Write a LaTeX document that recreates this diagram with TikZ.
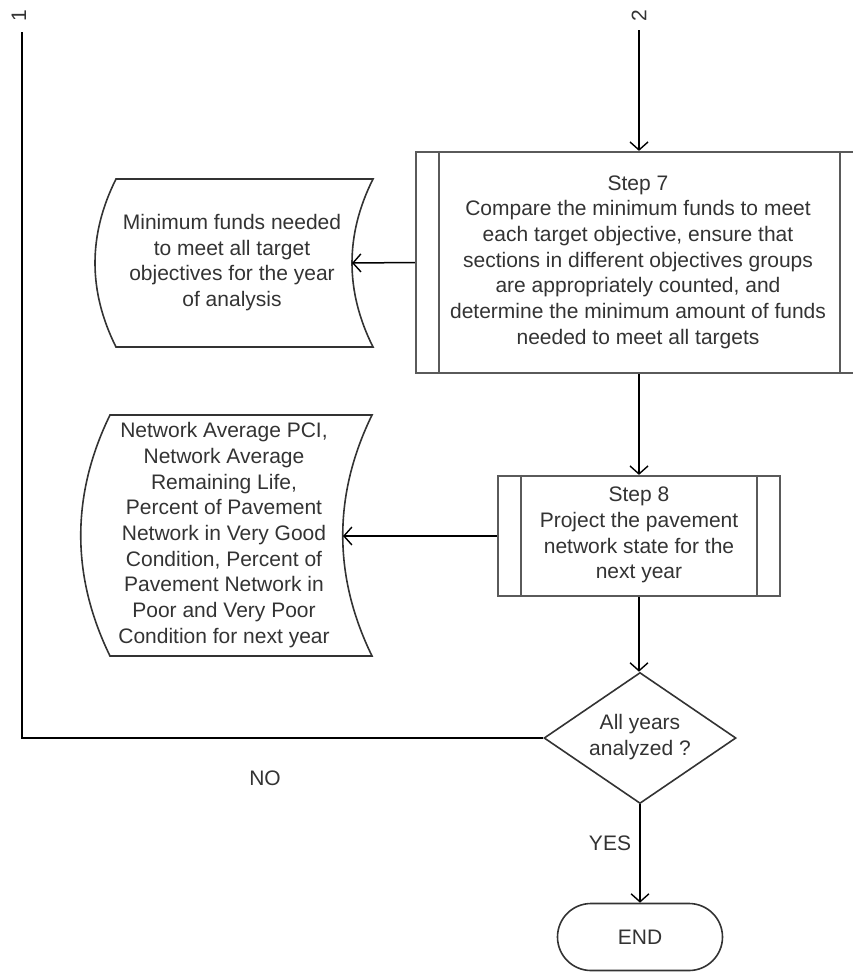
\documentclass[tikz,border=0pt]{standalone}
\usepackage{fontspec}
\setmainfont{Liberation Sans}
\usetikzlibrary{arrows.meta,shapes.geometric}
\definecolor{ink}{HTML}{333333}
\definecolor{edge}{HTML}{5A5A5A}
\begin{document}
\begin{tikzpicture}[x=1pt,y=-1pt,
  txt/.style={font=\fontsize{21}{25.7}\selectfont, text=ink, align=center, inner sep=0pt},
  procbox/.style={draw=edge, line width=2.2pt, rectangle, inner sep=0pt},
  outline/.style={draw=black!80, line width=1.6pt},
  decision/.style={diamond, draw=black!80, line width=1.6pt, inner sep=0pt, aspect=1.47},
  terminal/.style={draw=black!80, line width=1.6pt, rectangle, rounded corners=33.5pt, inner sep=0pt},
  link/.style={draw=black, line width=1.5pt},
  flow/.style={link, -{Straight Barb[length=8pt,width=18pt,line width=1.4pt]}},
]
\useasboundingbox (0,0) rectangle (852,975);

% off-page connector labels
\node[txt, rotate=90] (k1) at (19,16) {1};
\node[txt, rotate=90] (k2) at (639,16) {2};
\coordinate (top1) at (22,32);
\coordinate (top2) at (639,30);

% Step 7 (predefined process)
\node[procbox, minimum width=447pt, minimum height=221pt] (s7) at (639.5,262.5) {};
\draw[edge, line width=2.2pt] ([xshift=24pt]s7.north west) -- ([xshift=24pt]s7.south west);
\draw[edge, line width=2.2pt] ([xshift=-24pt]s7.north east) -- ([xshift=-24pt]s7.south east);
\node[txt] (t7) at (638,262) {Step 7\\Compare the minimum funds to meet\\each target objective, ensure that\\sections in different objectives groups\\are appropriately counted, and\\determine the minimum amount of funds\\needed to meet all targets};

% Step 8 (predefined process)
\node[procbox, minimum width=282pt, minimum height=120pt] (s8) at (639,536) {};
\draw[edge, line width=2.2pt] ([xshift=24pt]s8.north west) -- ([xshift=24pt]s8.south west);
\draw[edge, line width=2.2pt] ([xshift=-24pt]s8.north east) -- ([xshift=-24pt]s8.south east);
\node[txt] (t8) at (639,535) {Step 8\\Project the pavement\\network state for the\\next year};

% stored data: minimum funds
\draw[outline] (116,179) -- (373,179) .. controls (345,235) and (345,291) .. (373,347)
  -- (116,347) .. controls (88,291) and (88,235) .. cycle;
\node[txt] (d1) at (232,262.5) {Minimum funds needed\\to meet all target\\objectives for the year\\of analysis};
\coordinate (d1r) at (352,263);

% stored data: network state
\draw[outline] (110,415) -- (372,415) .. controls (333,495) and (333,576) .. (372,656)
  -- (110,656) .. controls (71,576) and (71,495) .. cycle;
\node[txt] (d2) at (224,535) {Network Average PCI,\\Network Average\\Remaining Life,\\Percent of Pavement\\Network in Very Good\\Condition, Percent of\\Pavement Network in\\Poor and Very Poor\\Condition for next year};
\coordinate (d2r) at (343,536);

% decision and end
\node[decision, minimum width=192pt, minimum height=131pt] (dec) at (640,738) {};
\node[txt] (td) at (640,737) {All years\\analyzed ?};
\node[terminal, minimum width=165pt, minimum height=67pt] (end) at (640,937) {};
\node[txt] (te) at (640,937) {END};

% branch labels
\node[txt] (no) at (265,778) {NO};
\node[txt] (yes) at (610,843) {YES};

% connectors
\draw[flow] (top2) -- (s7.north -| top2);
\draw[flow] (s7.west) -- (d1r);
\draw[flow] (s7.south -| s8.north) -- (s8.north);
\draw[flow] (s8.west) -- (d2r);
\draw[flow] (s8.south) -- (s8.south |- dec.north);
\draw[flow] (dec.south) -- (end.north);
\draw[link] (dec.west) -- (dec.west -| top1) -- (top1);
\end{tikzpicture}
\end{document}
